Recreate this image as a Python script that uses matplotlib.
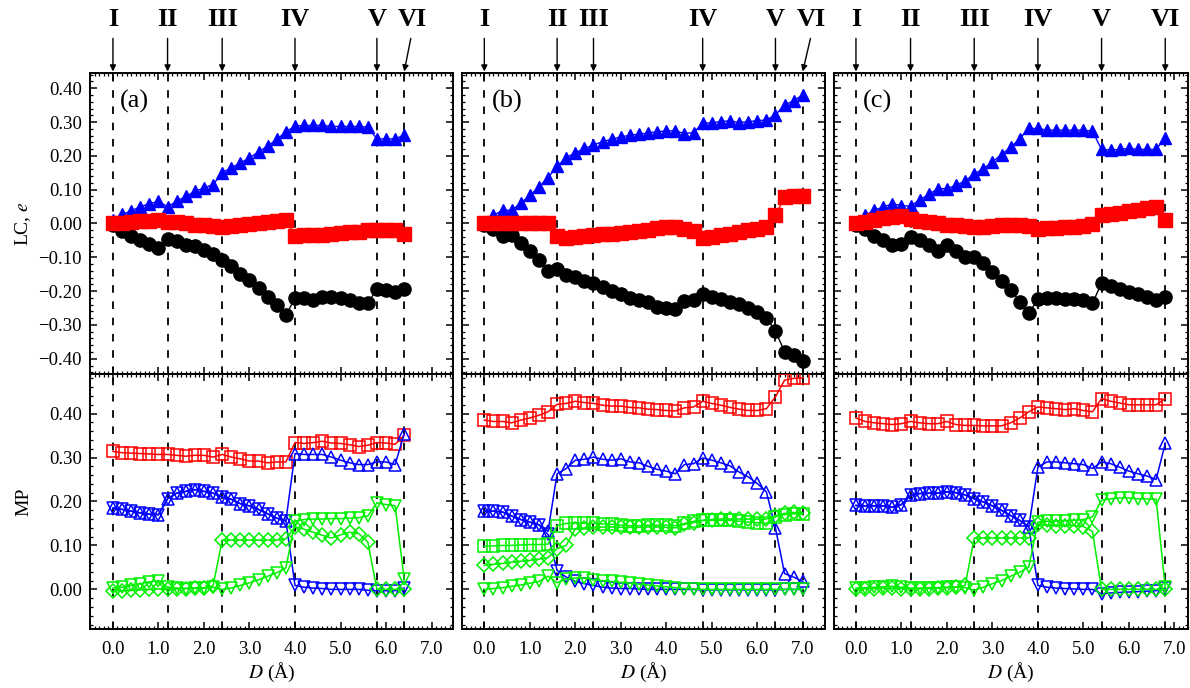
import numpy as np
import matplotlib.pyplot as plt
from matplotlib.ticker import MultipleLocator, FuncFormatter
import matplotlib.transforms as mtransforms

plt.rcParams['font.family'] = ['Liberation Serif', 'DejaVu Serif']
plt.rcParams['mathtext.fontset'] = 'stix'

# D grid (Angstrom), constant 0.2 step in every panel
D_a = np.arange(33) * 0.2
D_b = np.arange(36) * 0.2
D_c = np.arange(35) * 0.2

# stage positions I..VI
stages = ['I', 'II', 'III', 'IV', 'V', 'VI']
stage_a = [0.0, 1.2, 2.4, 4.0, 5.8, 6.4]
stage_b = [0.0, 1.6, 2.4, 4.8, 6.4, 7.0]
stage_c = [0.0, 1.2, 2.6, 4.0, 5.4, 6.8]

# ---- LC, e (top row) ----
lc_blue_a = [0.010, 0.027, 0.037, 0.050, 0.058, 0.066, 0.049, 0.066, 0.080, 0.095, 0.105,
             0.115, 0.150, 0.165, 0.179, 0.194, 0.212, 0.229, 0.249, 0.271, 0.288, 0.290,
             0.290, 0.290, 0.287, 0.287, 0.287, 0.287, 0.285, 0.250, 0.250, 0.250, 0.262]
lc_red_a = [0.000, 0.002, 0.004, 0.006, 0.008, 0.010, 0.005, 0.003, 0.000, -0.003, -0.005,
            -0.007, -0.010, -0.007, -0.004, -0.001, 0.002, 0.005, 0.008, 0.011, -0.036, -0.035,
            -0.034, -0.033, -0.031, -0.029, -0.026, -0.024, -0.020, -0.020, -0.020, -0.019, -0.031]
lc_black_a = [-0.005, -0.023, -0.036, -0.050, -0.060, -0.073, -0.046, -0.053, -0.065, -0.068,
              -0.078, -0.090, -0.108, -0.127, -0.148, -0.166, -0.192, -0.217, -0.242, -0.271,
              -0.221, -0.221, -0.225, -0.217, -0.217, -0.219, -0.226, -0.234, -0.236, -0.194,
              -0.197, -0.202, -0.194]

lc_blue_b = [0.005, 0.024, 0.039, 0.039, 0.060, 0.083, 0.108, 0.136, 0.169, 0.195, 0.209, 0.222,
             0.232, 0.242, 0.249, 0.256, 0.261, 0.264, 0.268, 0.271, 0.274, 0.274, 0.266, 0.269,
             0.296, 0.298, 0.301, 0.304, 0.298, 0.301, 0.304, 0.306, 0.321, 0.350, 0.363, 0.380]
lc_red_b = [0.000, 0.000, 0.000, 0.000, 0.000, 0.000, 0.000, 0.000, -0.038, -0.044, -0.041,
            -0.038, -0.035, -0.032, -0.030, -0.027, -0.024, -0.021, -0.018, -0.014, -0.011,
            -0.010, -0.016, -0.021, -0.044, -0.039, -0.035, -0.030, -0.025, -0.020, -0.015,
            -0.010, 0.025, 0.077, 0.080, 0.080]
lc_black_b = [-0.003, -0.016, -0.036, -0.034, -0.058, -0.082, -0.108, -0.140, -0.134, -0.151,
              -0.157, -0.169, -0.177, -0.189, -0.199, -0.209, -0.219, -0.226, -0.232, -0.246,
              -0.250, -0.254, -0.229, -0.227, -0.207, -0.217, -0.224, -0.231, -0.239, -0.251,
              -0.261, -0.278, -0.318, -0.379, -0.390, -0.407]

lc_blue_c = [0.005, 0.024, 0.039, 0.049, 0.058, 0.053, 0.051, 0.070, 0.086, 0.103, 0.103, 0.113,
             0.126, 0.146, 0.162, 0.182, 0.204, 0.225, 0.251, 0.281, 0.281, 0.276, 0.276, 0.276,
             0.276, 0.276, 0.273, 0.219, 0.217, 0.219, 0.222, 0.219, 0.219, 0.219, 0.254]
lc_red_c = [0.000, 0.005, 0.010, 0.015, 0.019, 0.021, 0.014, 0.008, 0.003, 0.000, -0.003, -0.005,
            -0.006, -0.011, -0.009, -0.007, -0.005, -0.004, -0.004, -0.006, -0.016, -0.014,
            -0.012, -0.011, -0.010, -0.007, -0.002, 0.024, 0.028, 0.032, 0.036, 0.040, 0.045,
            0.050, 0.009]
lc_black_c = [-0.003, -0.016, -0.036, -0.050, -0.065, -0.062, -0.041, -0.048, -0.065, -0.080,
              -0.065, -0.080, -0.098, -0.100, -0.118, -0.143, -0.171, -0.197, -0.231, -0.265,
              -0.224, -0.219, -0.219, -0.222, -0.222, -0.227, -0.236, -0.176, -0.184, -0.194,
              -0.202, -0.209, -0.217, -0.227, -0.216]

# ---- MP (bottom row) ----
mp_red_a = [0.314, 0.311, 0.310, 0.309, 0.308, 0.307, 0.307, 0.305, 0.303, 0.305, 0.305, 0.301,
            0.307, 0.301, 0.297, 0.292, 0.292, 0.288, 0.290, 0.290, 0.334, 0.332, 0.334, 0.337,
            0.333, 0.332, 0.329, 0.325, 0.328, 0.334, 0.333, 0.330, 0.351]
mp_up_a = [0.185, 0.182, 0.178, 0.174, 0.171, 0.170, 0.206, 0.219, 0.223, 0.227, 0.223, 0.219,
           0.210, 0.205, 0.195, 0.190, 0.182, 0.172, 0.162, 0.156, 0.309, 0.307, 0.307, 0.307,
           0.301, 0.294, 0.288, 0.284, 0.284, 0.290, 0.290, 0.284, 0.354]
mp_dn_a = [0.185, 0.182, 0.178, 0.174, 0.171, 0.170, 0.206, 0.219, 0.223, 0.227, 0.223, 0.219,
           0.210, 0.205, 0.195, 0.190, 0.182, 0.172, 0.162, 0.156, 0.009, 0.005, 0.003, 0.002,
           0.000, 0.000, 0.000, 0.000, -0.002, -0.003, -0.003, -0.003, 0.003]
mp_dia_a = [-0.004, -0.003, -0.002, -0.001, 0.000, 0.001, 0.001, 0.001, 0.002, 0.003, 0.004,
            0.008, 0.112, 0.112, 0.112, 0.112, 0.112, 0.112, 0.112, 0.115, 0.142, 0.137, 0.130,
            0.123, 0.117, 0.124, 0.130, 0.127, 0.108, 0.000, 0.000, 0.000, 0.000]
mp_gdn_a = [0.003, 0.005, 0.009, 0.013, 0.017, 0.020, 0.005, 0.003, 0.002, 0.003, 0.003, 0.005,
            0.000, 0.003, 0.009, 0.015, 0.022, 0.030, 0.038, 0.049, 0.155, 0.159, 0.160, 0.160,
            0.161, 0.161, 0.162, 0.163, 0.167, 0.197, 0.193, 0.190, 0.023]

mp_red_b = [0.385, 0.382, 0.382, 0.379, 0.385, 0.390, 0.396, 0.404, 0.421, 0.423, 0.428, 0.425,
            0.423, 0.419, 0.417, 0.417, 0.414, 0.413, 0.410, 0.409, 0.407, 0.406, 0.413, 0.415,
            0.428, 0.423, 0.419, 0.414, 0.410, 0.407, 0.407, 0.411, 0.438, 0.476, 0.480, 0.481]
mp_up_b = [0.178, 0.178, 0.176, 0.167, 0.159, 0.153, 0.147, 0.132, 0.263, 0.275, 0.294, 0.296,
           0.301, 0.296, 0.294, 0.297, 0.290, 0.288, 0.280, 0.273, 0.269, 0.263, 0.284, 0.286,
           0.299, 0.294, 0.288, 0.281, 0.267, 0.256, 0.241, 0.222, 0.140, 0.036, 0.028, 0.018]
mp_dn_b = [0.178, 0.178, 0.176, 0.167, 0.159, 0.153, 0.147, 0.125, 0.043, 0.028, 0.018, 0.013,
           0.009, 0.005, 0.003, 0.002, 0.002, 0.001, 0.000, 0.000, 0.000, 0.000, 0.000, 0.000,
           -0.001, -0.001, -0.001, -0.001, -0.001, -0.001, -0.001, -0.001, -0.001, 0.000,
           0.000, 0.000]
mp_dia_b = [0.055, 0.057, 0.059, 0.062, 0.064, 0.066, 0.069, 0.072, 0.093, 0.100, 0.138, 0.140,
            0.142, 0.142, 0.142, 0.141, 0.141, 0.141, 0.142, 0.142, 0.141, 0.140, 0.148, 0.152,
            0.157, 0.159, 0.160, 0.160, 0.160, 0.160, 0.160, 0.160, 0.168, 0.173, 0.175, 0.174]
mp_sq_b = [0.098, 0.099, 0.100, 0.100, 0.101, 0.102, 0.102, 0.103, 0.145, 0.150, 0.152, 0.150,
           0.150, 0.149, 0.148, 0.146, 0.145, 0.145, 0.146, 0.146, 0.146, 0.145, 0.150, 0.155,
           0.157, 0.157, 0.157, 0.157, 0.155, 0.153, 0.152, 0.150, 0.165, 0.170, 0.172, 0.172]
mp_gdn_b = [0.000, 0.002, 0.004, 0.007, 0.010, 0.014, 0.018, 0.030, 0.015, 0.024, 0.026, 0.026,
            0.022, 0.020, 0.018, 0.016, 0.014, 0.012, 0.010, 0.008, 0.006, 0.004, 0.002, 0.001,
            0.000, 0.000, 0.000, 0.000, 0.000, 0.000, 0.000, 0.000, 0.000, 0.000, 0.000, 0.000]

mp_red_c = [0.390, 0.382, 0.379, 0.377, 0.375, 0.377, 0.382, 0.379, 0.377, 0.377, 0.382, 0.375,
            0.373, 0.373, 0.372, 0.372, 0.372, 0.379, 0.390, 0.404, 0.415, 0.413, 0.411, 0.409,
            0.411, 0.407, 0.404, 0.434, 0.428, 0.424, 0.420, 0.420, 0.420, 0.420, 0.434]
mp_up_c = [0.191, 0.190, 0.190, 0.190, 0.187, 0.193, 0.214, 0.218, 0.219, 0.219, 0.222, 0.220,
           0.215, 0.206, 0.199, 0.190, 0.180, 0.168, 0.157, 0.142, 0.278, 0.290, 0.290, 0.288,
           0.286, 0.284, 0.275, 0.290, 0.286, 0.278, 0.269, 0.263, 0.258, 0.250, 0.332]
mp_dn_c = [0.191, 0.190, 0.190, 0.190, 0.187, 0.193, 0.214, 0.218, 0.219, 0.219, 0.222, 0.220,
           0.215, 0.206, 0.199, 0.190, 0.180, 0.168, 0.157, 0.142, 0.009, 0.005, 0.003, 0.002,
           0.001, 0.000, 0.000, -0.010, -0.008, -0.007, -0.006, -0.005, -0.004, -0.003, 0.003]
mp_dia_c = [0.000, 0.001, 0.002, 0.003, 0.003, 0.002, 0.001, 0.001, 0.002, 0.003, 0.004, 0.005,
            0.009, 0.117, 0.117, 0.117, 0.117, 0.117, 0.117, 0.117, 0.148, 0.146, 0.145, 0.145,
            0.145, 0.143, 0.132, 0.000, 0.000, 0.000, 0.000, 0.000, 0.000, 0.000, 0.000]
mp_gdn_c = [0.003, 0.004, 0.005, 0.006, 0.007, 0.005, 0.003, 0.003, 0.004, 0.004, 0.005, 0.005,
            0.004, -0.002, 0.005, 0.013, 0.020, 0.030, 0.039, 0.051, 0.153, 0.155, 0.155, 0.156,
            0.157, 0.159, 0.165, 0.203, 0.206, 0.208, 0.208, 0.206, 0.206, 0.205, 0.005]

BLUE, RED, GREEN = '#0000ff', '#ff0000', '#00f000'

fig = plt.figure(figsize=(11.9, 6.88), dpi=100)

# panel geometry (figure fractions) and x ranges
cols = [
    dict(left=0.0756, width=0.3050, xlim=(-0.505, 7.47), D=D_a, st=stage_a,
         st_shift=[0, 0, 0, 0, 0, 0.17], tag='(a)',
         lc=(lc_blue_a, lc_red_a, lc_black_a),
         mp=[(mp_red_a, 's', RED), (mp_up_a, '^', BLUE), (mp_dn_a, 'v', BLUE),
             (mp_dia_a, 'D', GREEN), (mp_gdn_a, 'v', GREEN)]),
    dict(left=0.3880, width=0.3053, xlim=(-0.497, 7.49), D=D_b, st=stage_b,
         st_shift=[0, 0, 0, 0, 0, 0.2], tag='(b)',
         lc=(lc_blue_b, lc_red_b, lc_black_b),
         mp=[(mp_red_b, 's', RED), (mp_up_b, '^', BLUE), (mp_dn_b, 'v', BLUE),
             (mp_sq_b, 's', GREEN), (mp_dia_b, 'D', GREEN), (mp_gdn_b, 'v', GREEN)]),
    dict(left=0.7008, width=0.2975, xlim=(-0.484, 7.30), D=D_c, st=stage_c,
         st_shift=[0, 0, 0, 0, 0, 0], tag='(c)',
         lc=(lc_blue_c, lc_red_c, lc_black_c),
         mp=[(mp_red_c, 's', RED), (mp_up_c, '^', BLUE), (mp_dn_c, 'v', BLUE),
             (mp_dia_c, 'D', GREEN), (mp_gdn_c, 'v', GREEN)]),
]

fmt2 = FuncFormatter(lambda v, p: f'{v:.2f}'.replace('-', '\u2212'))
fmt1 = FuncFormatter(lambda v, p: f'{v:.1f}'.replace('-', '\u2212'))


def style_axes(ax):
    ax.tick_params(which='both', direction='in', top=True, right=True, labelsize=13.5)
    ax.tick_params(which='major', length=5, width=1.1)
    ax.tick_params(which='minor', length=2.5, width=0.9)
    ax.tick_params(axis='y', pad=6)
    ax.tick_params(axis='x', pad=9)
    ax.xaxis.set_major_locator(MultipleLocator(1.0))
    ax.xaxis.set_minor_locator(MultipleLocator(0.1))
    ax.yaxis.set_major_locator(MultipleLocator(0.1))
    ax.yaxis.set_minor_locator(MultipleLocator(0.02))
    ax.yaxis.set_major_formatter(fmt2)
    ax.xaxis.set_major_formatter(fmt1)
    for s in ax.spines.values():
        s.set_linewidth(1.4)


for k, col in enumerate(cols):
    top = fig.add_axes([col['left'], 0.4564, col['width'], 0.4375])
    bot = fig.add_axes([col['left'], 0.0858, col['width'], 0.3706])
    D = col['D']

    for ax in (top, bot):
        style_axes(ax)
        ax.set_xlim(*col['xlim'])
        for xv in col['st']:
            ax.axvline(xv, color='k', lw=1.3, dashes=(4.2, 4.8), zorder=1)

    top.set_ylim(-0.445, 0.445)
    bot.set_ylim(-0.09, 0.49)
    top.tick_params(labelbottom=False)

    # LC, e
    blue, red, black = col['lc']
    top.plot(D, blue, '-', color=BLUE, marker='^', ms=8.5, lw=1, zorder=3)
    top.plot(D, black, '-', color='k', marker='o', ms=9.5, lw=1, zorder=3)
    top.plot(D, red, '-', color=RED, marker='s', ms=9.5, lw=1, zorder=4)

    # MP
    for vals, mk, c in col['mp']:
        ms = 7 if mk == 'D' else 8.5
        bot.plot(D, vals, '-', color=c, marker=mk, ms=ms, mfc='none', mew=1.1, lw=1.1,
                 zorder=3)

    top.text(0.082, 0.905, col['tag'], transform=top.transAxes, fontsize=19,
             ha='left', va='center')

    bot.set_xlabel('$D$ (Å)', fontsize=14, labelpad=2)

    if k == 0:
        top.set_ylabel('LC, $e$', fontsize=14)
        bot.set_ylabel('MP', fontsize=14)
        top.yaxis.set_label_coords(-0.158, 0.5)
        bot.yaxis.set_label_coords(-0.158, 0.5)
    else:
        top.tick_params(labelleft=False)
        bot.tick_params(labelleft=False)

    # stage labels with arrows above the top row
    trans = mtransforms.blended_transform_factory(top.transData, top.transAxes)
    for name, xv, dx in zip(stages, col['st'], col['st_shift']):
        top.text(xv + dx, 1.178, name, transform=trans, fontsize=19, fontweight='bold',
                 ha='center', va='center', clip_on=False)
        top.annotate('', xy=(xv, 1.005), xycoords=trans,
                     xytext=(xv + dx * 0.85, 1.115), textcoords=trans,
                     arrowprops=dict(arrowstyle='-|>', color='k', lw=1.0,
                                     mutation_scale=9, shrinkA=0, shrinkB=0),
                     annotation_clip=False)

fig.savefig('out.png', dpi=100)
